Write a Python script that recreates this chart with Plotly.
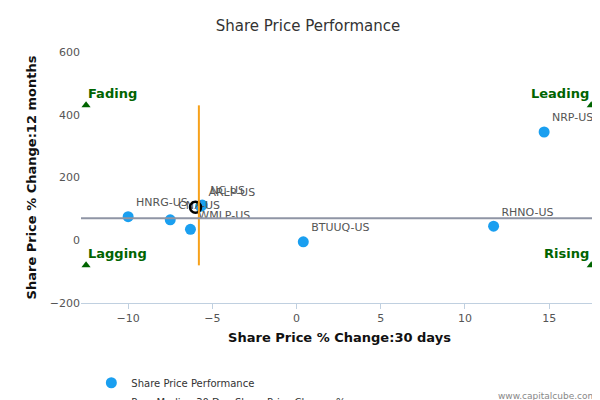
import plotly.graph_objects as go

names = ['HNRG-US', 'CNX-US', 'WMLP-US', 'ARLP-US', 'NC-US', 'BTUUQ-US', 'RHNO-US', 'NRP-US']
chg_30d = [-10.0, -7.5, -6.3, -5.7, -5.6, 0.4, 11.7, 14.7]
chg_12m = [75, 65, 35, 108, 112, -5, 45, 345]
label_pos = ['top right', 'top right', 'top right', 'top right', 'top right', 'top right', 'top right', 'top right']
company = (-6.0, 105)
median_30d = -5.8
median_12m = 70
quad_x = [-12.5, 17.5, -12.5, 17.5]
quad_y = [430, 430, -80, -80]
quad_text = ['Fading', 'Leading', 'Lagging', 'Rising']

fig = go.Figure()
fig.add_trace(go.Scatter(
    x=chg_30d, y=chg_12m, mode='markers+text', text=names, textposition=label_pos,
    textfont=dict(size=11, color='#555'), marker=dict(size=11, color='#1a9ff0'),
    name='Share Price Performance', cliponaxis=False))
fig.add_trace(go.Scatter(
    x=[company[0]], y=[company[1]], mode='markers', showlegend=False,
    marker=dict(size=11, color='rgba(0,0,0,0)', line=dict(color='black', width=2.5))))
fig.add_trace(go.Scatter(
    x=[median_30d, median_30d], y=[-80, 430], mode='lines',
    line=dict(color='#f7a11a', width=2),
    name='Peer Median 30 Day Share Price Change %'))
fig.add_trace(go.Scatter(
    x=[-12.8, 17.9], y=[median_12m, median_12m], mode='lines',
    line=dict(color='#8f95a5', width=2),
    name='Peer Median 12 Month Share Price Change %'))
fig.add_trace(go.Scatter(
    x=quad_x, y=quad_y, mode='markers', showlegend=False, cliponaxis=False,
    marker=dict(symbol='triangle-up', size=8, color='#006400')))

annotations = []
for qx, qy, t in zip(quad_x, quad_y, quad_text):
    left = qx < 0
    annotations.append(dict(
        x=qx, y=qy, text=f'<b>{t}</b>', showarrow=False,
        xanchor='left' if left else 'right', yanchor='bottom',
        xshift=0 if left else 0, yshift=2,
        font=dict(size=13, color='#006400')))
annotations.append(dict(
    x=1, y=-0.4, xref='paper', yref='paper', text='www.capitalcube.com',
    showarrow=False, xanchor='right', font=dict(size=9, color='#888')))

fig.update_layout(
    width=600, height=400, plot_bgcolor='white', paper_bgcolor='white',
    font=dict(family='DejaVu Sans', color='#333'),
    title=dict(text='Share Price Performance', x=0.5, y=0.97, font=dict(size=15)),
    margin=dict(l=73, r=10, t=44, b=105, autoexpand=False),
    xaxis=dict(range=[-12.8, 17.9], tickvals=[-10, -5, 0, 5, 10, 15],
               showgrid=False, zeroline=False, showline=True, linecolor='#c0d0e0',
               ticks='outside', tickcolor='#c0d0e0', tickfont=dict(size=11, color='#555'),
               title=dict(text='<b>Share Price % Change:30 days</b>', font=dict(size=13, color='#111'),
                          standoff=8)),
    yaxis=dict(range=[-200, 600], tickvals=[-200, 0, 200, 400, 600],
               showgrid=False, zeroline=False, tickfont=dict(size=11, color='#555'),
               title=dict(text='<b>Share Price % Change:12 months</b>', font=dict(size=13, color='#111'),
                          standoff=10)),
    legend=dict(orientation='h', x=0.02, y=-0.26, xanchor='left', yanchor='top',
                entrywidth=260, entrywidthmode='pixels', tracegroupgap=0,
                font=dict(size=10, color='#333')),
    annotations=annotations,
)
fig.write_html("out.html")
